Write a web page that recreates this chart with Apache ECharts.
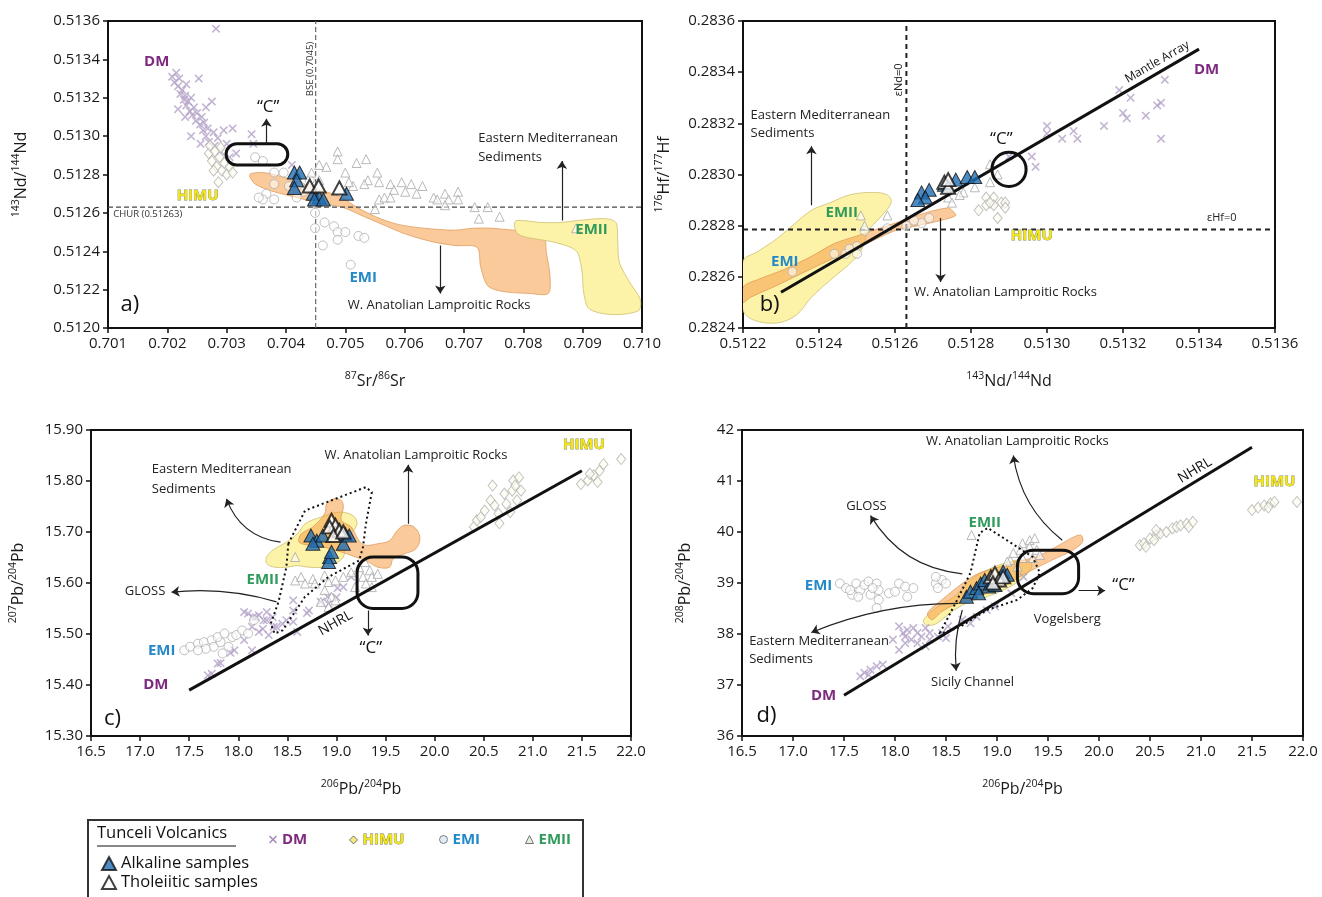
<!DOCTYPE html>
<html><head><meta charset="utf-8">
<script src="https://cdn.jsdelivr.net/npm/echarts@6/dist/echarts.min.js"></script>
<style>html,body{margin:0;padding:0;background:#fff}#c{width:1322px;height:897px}</style>
</head><body><div id="c"></div>
<script>
// ================= Panel a: 87Sr/86Sr (x) vs 143Nd/144Nd (y) =================
const aDM = [[0.70208,0.51331],[0.70212,0.51328],[0.70215,0.51333],[0.70218,0.51326],[0.70220,0.51330],[0.70222,0.51322],[0.70225,0.51324],[0.70228,0.51319],[0.70230,0.51321],[0.70232,0.51316],[0.70235,0.51318],[0.70238,0.51313],[0.70240,0.51320],[0.70242,0.51311],[0.70245,0.51315],[0.70248,0.51308],[0.70250,0.51312],[0.70253,0.51330],[0.70255,0.51306],[0.70258,0.51310],[0.70260,0.51303],[0.70262,0.51307],[0.70265,0.51300],[0.70268,0.51304],[0.70270,0.51297],[0.70275,0.51318],[0.70278,0.51302],[0.70280,0.51295],[0.70282,0.51356],[0.70285,0.51299],[0.70290,0.51292],[0.70295,0.51303],[0.70300,0.51296],[0.70305,0.51289],[0.70310,0.51304],[0.70316,0.51291],[0.70342,0.51301],[0.70345,0.51296],[0.70218,0.51314],[0.70230,0.51310],[0.70240,0.51300],[0.70256,0.51296],[0.70265,0.51315],[0.70232,0.51327],[0.70410,0.51285]];
const aHIMU = [[0.70270,0.51291],[0.70275,0.51287],[0.70280,0.51292],[0.70283,0.51284],[0.70288,0.51289],[0.70292,0.51282],[0.70296,0.51286],[0.70300,0.51280],[0.70305,0.51284],[0.70278,0.51282],[0.70286,0.51276],[0.70272,0.51295],[0.70290,0.51294],[0.70310,0.51281]];
const aEMI = [[0.70348,0.51289],[0.70361,0.51287],[0.70380,0.51281],[0.70396,0.51281],[0.70380,0.51275],[0.70367,0.51270],[0.70361,0.51267],[0.70424,0.51274],[0.70440,0.51277],[0.70430,0.51271],[0.70449,0.51265],[0.70449,0.51260],[0.70449,0.51252],[0.70465,0.51255],[0.70481,0.51253],[0.70487,0.51250],[0.70500,0.51250],[0.70522,0.51248],[0.70532,0.51247],[0.70462,0.51243],[0.70487,0.51246],[0.70509,0.51233],[0.70405,0.51274],[0.70418,0.51268],[0.70380,0.51267],[0.70354,0.51268]];
const aEMII = [[0.70487,0.51292],[0.70487,0.51288],[0.70535,0.51288],[0.70519,0.51286],[0.70468,0.51284],[0.70500,0.51281],[0.70554,0.51281],[0.70538,0.51277],[0.70557,0.51276],[0.70576,0.51275],[0.70595,0.51276],[0.70611,0.51275],[0.70630,0.51274],[0.70582,0.51272],[0.70601,0.51271],[0.70620,0.51270],[0.70649,0.51268],[0.70668,0.51270],[0.70690,0.51271],[0.70690,0.51267],[0.70674,0.51267],[0.70668,0.51264],[0.70655,0.51267],[0.70557,0.51267],[0.70550,0.51262],[0.70566,0.51268],[0.70718,0.51263],[0.70740,0.51263],[0.70725,0.51257],[0.70760,0.51258],[0.70889,0.51252],[0.70456,0.51285],[0.70443,0.51281],[0.70576,0.51268],[0.70532,0.51275],[0.70513,0.51274],[0.70506,0.51276],[0.70456,0.51277]];
const aAlk = [[0.70414,0.51281],[0.70423,0.51281],[0.70418,0.51277],[0.70414,0.51273],[0.70446,0.51270],[0.70456,0.51268],[0.70448,0.51267],[0.70463,0.51267],[0.70502,0.51270]];
const aThol = [[0.70440,0.51274],[0.70455,0.51274],[0.70490,0.51273]];
const aWAL = [[0.70339,0.51280],[0.70361,0.51281],[0.70392,0.51279],[0.70430,0.51275],[0.70468,0.51271],[0.70494,0.51268],[0.70519,0.51263],[0.70551,0.51258],[0.70589,0.51254],[0.70633,0.51252],[0.70684,0.51251],[0.70715,0.51252],[0.70747,0.51252],[0.70785,0.51251],[0.70832,0.51251],[0.70839,0.51239],[0.70845,0.51227],[0.70842,0.51218],[0.70810,0.51218],[0.70766,0.51219],[0.70740,0.51222],[0.70728,0.51232],[0.70722,0.51242],[0.70684,0.51243],[0.70646,0.51245],[0.70601,0.51249],[0.70570,0.51253],[0.70532,0.51258],[0.70494,0.51263],[0.70456,0.51265],[0.70418,0.51268],[0.70380,0.51271],[0.70348,0.51275]];
const aEMS = [[0.70788,0.51256],[0.70829,0.51255],[0.70861,0.51255],[0.70892,0.51256],[0.70937,0.51257],[0.70956,0.51255],[0.70959,0.51246],[0.70962,0.51234],[0.70981,0.51223],[0.70997,0.51215],[0.70994,0.51209],[0.70949,0.51207],[0.70911,0.51210],[0.70902,0.51218],[0.70899,0.51229],[0.70892,0.51239],[0.70880,0.51242],[0.70848,0.51245],[0.70810,0.51247],[0.70791,0.51249],[0.70785,0.51253]];
const aCHUR = [[0.701,0.51263],[0.710,0.51263]];
const aBSE = [[0.7045,0.5120],[0.7045,0.5136]];
const aC = [[0.70299,0.51296],[0.70403,0.51285]];
const aArrows = [[[0.70367,0.51296],[0.70367,0.51309],0],[[0.70865,0.51256],[0.70865,0.51287],0],[[0.70660,0.51243],[0.70660,0.51218],0]];
const aText = [[0.70182,0.51339,'DM','dm'],[0.70251,0.51269,'HIMU','himu'],[0.70530,0.51226,'EMI','emi'],[0.70915,0.51251,'EMII','emii'],[0.70137,0.51212,'a)','panel'],[0.70370,0.51315,'\u201cC\u201d','c'],[0.70724,0.51299,'Eastern Mediterranean','t','left'],[0.70724,0.51289,'Sediments','t','left'],[0.70658,0.51212,'W. Anatolian Lamproitic Rocks','t'],[0.70441,0.51335,'BSE (0.7045)','small','center',90],[0.70109,0.51259,'CHUR (0.51263)','small','left']];

// ================= Panel b: 143Nd/144Nd (x) vs 176Hf/177Hf (y) =================
const bDM = [[0.51319,0.28333],[0.51322,0.28330],[0.51320,0.28324],[0.51321,0.28322],[0.51326,0.28323],[0.51329,0.28327],[0.51330,0.28328],[0.51331,0.28337],[0.51330,0.28314],[0.51315,0.28319],[0.51307,0.28317],[0.51308,0.28314],[0.51304,0.28314],[0.51300,0.28319],[0.51300,0.28316],[0.51297,0.28303],[0.51296,0.28307],[0.51290,0.28307]];
const bHIMU = [[0.51284,0.28291],[0.51286,0.28291],[0.51288,0.28289],[0.51289,0.28289],[0.51284,0.28288],[0.51286,0.28288],[0.51289,0.28287],[0.51282,0.28286],[0.51287,0.28283],[0.51285,0.28289]];
const bEMI = [[0.51233,0.28262],[0.51244,0.28269],[0.51247,0.28269],[0.51250,0.28272],[0.51250,0.28269],[0.51252,0.28278],[0.51263,0.28280],[0.51267,0.28281],[0.51269,0.28283],[0.51265,0.28282],[0.51258,0.28279],[0.51248,0.28271]];
const bEMII = [[0.51251,0.28284],[0.51258,0.28284],[0.51252,0.28280],[0.51278,0.28293],[0.51281,0.28295],[0.51277,0.28292],[0.51274,0.28291],[0.51275,0.28289],[0.51285,0.28297],[0.51285,0.28304],[0.51287,0.28300]];
const bAlk = [[0.51267,0.28293],[0.51269,0.28294],[0.51268,0.28291],[0.51273,0.28296],[0.51276,0.28298],[0.51279,0.28299],[0.51281,0.28299],[0.51266,0.28290]];
const bThol = [[0.51273,0.28297],[0.51274,0.28295],[0.51274,0.28298]];
const bWAL = [[0.51220,0.28256],[0.51224,0.28259],[0.51231,0.28263],[0.51238,0.28268],[0.51244,0.28273],[0.51250,0.28276],[0.51256,0.28279],[0.51262,0.28282],[0.51268,0.28285],[0.51274,0.28287],[0.51275,0.28286],[0.51276,0.28284],[0.51272,0.28282],[0.51266,0.28280],[0.51260,0.28278],[0.51254,0.28274],[0.51248,0.28270],[0.51242,0.28266],[0.51235,0.28261],[0.51228,0.28256],[0.51222,0.28252],[0.51220,0.28250]];
const bEMS = [[0.51220,0.28266],[0.51224,0.28270],[0.51229,0.28275],[0.51233,0.28280],[0.51238,0.28286],[0.51243,0.28289],[0.51248,0.28292],[0.51254,0.28293],[0.51258,0.28292],[0.51259,0.28289],[0.51256,0.28283],[0.51253,0.28278],[0.51251,0.28270],[0.51248,0.28265],[0.51244,0.28260],[0.51238,0.28252],[0.51234,0.28245],[0.51229,0.28242],[0.51223,0.28243],[0.51220,0.28247]];
const bENd = [[0.51263,0.2824],[0.51263,0.2836]];
const bEHf = [[0.5122,0.282785],[0.5136,0.282785]];
const bMantle = [[0.5123,0.28254],[0.5134,0.28349]];
const bC = [0.51290,0.28302,0.000045];
const bArrows = [[[0.51238,0.28288],[0.51238,0.28311],0],[[0.51272,0.28283],[0.51272,0.28258],0]];
const bText = [[0.51342,0.28341,'DM','dm'],[0.51296,0.28276,'HIMU','himu'],[0.51231,0.28266,'EMI','emi'],[0.51246,0.28285,'EMII','emii'],[0.51227,0.28249,'b)','panel'],[0.51288,0.28314,'\u201cC\u201d','c'],[0.51222,0.28323,'Eastern Mediterranean','t','left'],[0.51222,0.28316,'Sediments','t','left'],[0.51265,0.28254,'W. Anatolian Lamproitic Rocks','t','left'],[0.51261,0.28337,'\u03b5Nd=0','small2','center',90],[0.51346,0.28283,'\u03b5Hf=0','small2'],[0.51329,0.28344,'Mantle Array','rot','center',30]];

// ================= Panel c: 206Pb/204Pb (x) vs 207Pb/204Pb (y) =================
const cDM = [[18.10,15.540],[18.18,15.533],[18.29,15.543],[18.35,15.533],[18.14,15.514],[18.21,15.504],[18.31,15.498],[18.39,15.514],[18.49,15.527],[18.56,15.546],[18.56,15.524],[18.60,15.504],[18.06,15.488],[18.14,15.468],[17.96,15.468],[17.79,15.442],[17.73,15.422],[17.69,15.419],[18.56,15.566],[18.72,15.546],[18.92,15.559],[19.00,15.572],[19.07,15.592],[19.15,15.612],[18.06,15.543],[18.21,15.537],[18.29,15.527],[18.15,15.533],[18.26,15.527],[18.36,15.514],[18.70,15.541],[18.84,15.563],[18.91,15.573],[19.01,15.590],[17.92,15.463],[17.82,15.443],[18.45,15.520],[18.25,15.510]];
const cHIMU = [[20.40,15.710],[20.43,15.723],[20.47,15.729],[20.57,15.762],[20.59,15.791],[20.61,15.752],[20.66,15.717],[20.71,15.775],[20.73,15.755],[20.79,15.781],[20.80,15.801],[20.82,15.791],[20.86,15.807],[20.88,15.781],[20.77,15.739],[20.84,15.762],[20.51,15.742],[20.65,15.736],[21.49,15.794],[21.56,15.801],[21.62,15.811],[21.68,15.820],[21.72,15.833],[21.66,15.798],[21.90,15.843],[21.58,15.814]];
const cEMI = [[17.45,15.468],[17.51,15.475],[17.59,15.481],[17.65,15.484],[17.73,15.488],[17.75,15.475],[17.82,15.484],[17.79,15.494],[17.86,15.501],[17.94,15.494],[17.98,15.498],[18.04,15.507],[18.10,15.501],[18.16,15.527],[17.90,15.475],[17.67,15.471],[17.84,15.462],[17.59,15.468]];
const cEMII = [[18.58,15.651],[18.58,15.605],[18.64,15.612],[18.68,15.599],[18.76,15.608],[18.78,15.599],[18.88,15.615],[18.92,15.602],[18.88,15.586],[18.95,15.573],[18.99,15.605],[19.07,15.612],[19.15,15.621],[19.23,15.631],[19.29,15.641],[19.34,15.625],[19.27,15.612],[19.30,15.599],[19.36,15.612],[19.42,15.618],[18.99,15.566],[18.84,15.563],[18.92,15.553],[19.19,15.592],[19.36,15.592]];
const cAlk = [[18.74,15.693],[18.80,15.683],[18.86,15.693],[18.76,15.677],[18.93,15.651],[18.92,15.641],[19.09,15.696],[19.07,15.677],[18.95,15.661],[19.13,15.693]];
const cThol = [[18.95,15.723],[18.99,15.713],[18.93,15.710],[19.03,15.703],[18.97,15.693],[19.07,15.700]];
const cWAL = [[18.64,15.696],[18.76,15.710],[18.88,15.736],[18.90,15.755],[18.97,15.765],[19.05,15.762],[19.07,15.749],[19.05,15.723],[19.15,15.710],[19.23,15.683],[19.29,15.674],[19.42,15.677],[19.54,15.683],[19.62,15.703],[19.69,15.713],[19.79,15.710],[19.85,15.690],[19.81,15.667],[19.69,15.657],[19.58,15.648],[19.54,15.631],[19.42,15.631],[19.30,15.644],[19.19,15.651],[19.11,15.657],[18.99,15.664],[18.88,15.670],[18.72,15.674],[18.62,15.680]];
const cEMS = [[18.29,15.651],[18.35,15.664],[18.49,15.680],[18.60,15.696],[18.68,15.716],[18.84,15.729],[19.03,15.739],[19.17,15.732],[19.21,15.716],[19.15,15.696],[19.09,15.670],[19.07,15.651],[18.99,15.638],[18.88,15.631],[18.72,15.631],[18.60,15.634],[18.49,15.631],[18.37,15.631],[18.29,15.638]];
const cGLOSS = [[18.51,15.677],[18.68,15.742],[18.99,15.765],[19.30,15.788],[19.36,15.778],[19.30,15.716],[19.27,15.670],[19.23,15.644],[18.92,15.612],[18.68,15.573],[18.45,15.507],[18.37,15.501],[18.33,15.520],[18.41,15.563],[18.49,15.631]];
const cNHRL = [[17.5,15.39],[21.5,15.82]];
const cC = [[19.21,15.651],[19.83,15.550]];
const cArrows = [[[19.32,15.546],[19.32,15.497],0],[[19.73,15.716],[19.73,15.832],0],[[18.43,15.680],[17.88,15.765],0.3],[[18.39,15.563],[17.32,15.582],-0.1]];
const cText = [[21.52,15.871,'HIMU','himu'],[18.25,15.606,'EMII','emii'],[17.22,15.467,'EMI','emi'],[17.16,15.400,'DM','dm'],[16.72,15.333,'c)','panel'],[19.35,15.472,'\u201cC\u201d','c'],[17.12,15.822,'Eastern Mediterranean','t','left'],[17.12,15.784,'Sediments','t','left'],[19.81,15.850,'W. Anatolian Lamproitic Rocks','t'],[17.05,15.584,'GLOSS','t'],[18.99,15.521,'NHRL','rot2','center',29.4]];

// ================= Panel d: 206Pb/204Pb (x) vs 208Pb/204Pb (y) =================
const dDM = [[17.66,37.17],[17.70,37.24],[17.76,37.30],[17.82,37.37],[17.88,37.40],[18.04,37.69],[18.08,38.02],[18.12,38.08],[18.18,38.12],[18.22,38.02],[18.26,37.95],[18.16,37.89],[18.10,37.82],[18.22,37.82],[18.34,37.89],[18.42,37.95],[18.46,38.02],[18.50,37.92],[18.10,37.95],[18.04,38.15],[18.30,38.12],[18.52,38.15],[18.66,38.28],[18.74,38.21],[18.80,38.34],[18.90,38.47],[18.98,38.54],[19.14,38.80],[19.26,39.12],[18.30,37.76],[17.98,37.89],[18.34,38.02],[17.74,37.20]];
const dHIMU = [[20.40,39.74],[20.44,39.775],[20.50,39.87],[20.56,39.94],[20.54,39.84],[20.46,39.71],[20.60,39.97],[20.66,40.00],[20.72,40.07],[20.76,40.10],[20.80,40.13],[20.86,40.16],[20.88,40.10],[20.92,40.20],[21.50,40.43],[21.56,40.48],[21.62,40.52],[21.68,40.56],[21.72,40.59],[21.66,40.48],[21.94,40.59],[20.56,40.04]];
const dEMI = [[17.46,38.99],[17.52,38.90],[17.58,38.77],[17.62,38.99],[17.66,38.86],[17.70,38.96],[17.74,39.03],[17.76,38.77],[17.82,38.99],[17.84,38.86],[17.84,38.67],[17.82,38.51],[17.94,38.80],[18.00,38.83],[18.04,38.99],[18.10,38.93],[18.12,38.73],[18.18,38.90],[18.40,38.99],[18.42,38.90],[18.46,39.06],[18.50,38.99],[18.40,39.12],[17.56,38.86],[17.64,38.73],[17.78,38.90]];
const dEMII = [[18.75,39.94],[19.25,39.78],[19.32,39.84],[19.37,39.88],[19.32,39.71],[19.39,39.65],[19.23,39.65],[19.13,39.45],[19.25,39.49],[19.16,39.59],[19.35,39.49],[19.42,39.55],[19.10,39.42],[19.20,39.32]];
const dAlk = [[18.70,38.73],[18.74,38.83],[18.80,38.90],[18.84,38.99],[18.88,39.06],[18.82,38.80],[18.92,38.93],[18.98,38.96],[19.04,39.12],[19.06,39.22],[19.10,39.16]];
const dThol = [[18.94,39.12],[18.98,39.19],[19.02,39.06],[18.96,39.00],[19.06,39.12]];
const dWAL = [[18.32,38.41],[18.46,38.67],[18.66,38.99],[18.82,39.19],[18.98,39.29],[19.18,39.42],[19.38,39.51],[19.58,39.71],[19.72,39.87],[19.82,39.94],[19.84,39.81],[19.74,39.64],[19.54,39.45],[19.38,39.29],[19.22,39.12],[19.06,38.93],[18.90,38.80],[18.74,38.67],[18.58,38.57],[18.46,38.44],[18.36,38.28]];
const dEMS = [[18.28,38.28],[18.42,38.54],[18.58,38.73],[18.74,39.06],[18.90,39.25],[19.06,39.38],[19.22,39.45],[19.34,39.38],[19.30,39.19],[19.18,38.99],[19.06,38.86],[18.90,38.73],[18.74,38.64],[18.58,38.47],[18.46,38.28],[18.38,38.18],[18.30,38.18]];
const dGLOSS = [[18.44,38.02],[18.61,38.67],[18.74,39.20],[18.83,39.98],[18.91,40.08],[19.35,39.51],[19.42,39.20],[19.35,38.90],[19.20,38.67],[18.90,38.47],[18.64,38.14],[18.47,38.02]];
const dNHRL = [[17.5,36.80],[21.5,41.66]];
const dC = [[19.20,39.64],[19.80,38.79]];
const dArrows = [[[19.80,38.85],[20.06,38.85],0],[[19.64,39.84],[19.16,41.50],0.2],[[18.66,39.18],[17.76,40.32],0.25],[[18.62,38.60],[17.18,38.03],-0.1],[[18.66,38.47],[18.60,37.28],-0.1]];
const dText = [[21.72,40.98,'HIMU','himu'],[18.88,40.19,'EMII','emii'],[17.25,38.94,'EMI','emi'],[17.30,36.78,'DM','dm'],[16.74,36.40,'d)','panel'],[20.24,38.95,'\u201cC\u201d','c'],[19.20,41.78,'W. Anatolian Lamproitic Rocks','t'],[17.72,40.50,'GLOSS','t'],[16.57,37.86,'Eastern Mediterranean','t','left'],[16.57,37.50,'Sediments','t','left'],[18.76,37.06,'Sicily Channel','t'],[19.69,38.29,'Vogelsberg','t'],[20.94,41.21,'NHRL','rot2','center',31.2]];

// ================= Axes =================
const xTicksDec = [3,4,1,1];
const yTicksDec = [4,4,2,0];
const xRange = [[0.701,0.710,0.001],[0.5122,0.5136,0.0002],[16.5,22.0,0.5],[16.5,22.0,0.5]];
const yRange = [[0.5120,0.5136,0.0002],[0.2824,0.2836,0.0002],[15.30,15.90,0.1],[36,42,1]];
const xNames = [['87','Sr/','86','Sr'],['143','Nd/','144','Nd'],['206','Pb/','204','Pb'],['206','Pb/','204','Pb']];
const yNames = [['143','Nd/','144','Nd'],['176','Hf/','177','Hf'],['207','Pb/','204','Pb'],['208','Pb/','204','Pb']];

const F = "'Open Sans', 'Noto Sans', sans-serif";
const grids = [
  {left:108, top:21, width:534, height:307},
  {left:743, top:21, width:532, height:307},
  {left:91, top:430, width:540, height:306},
  {left:742, top:430, width:561, height:306}
];
const yGap = [76, 68, 62, 46];
const nameRich = {
  n:{fontSize:16, fontFamily:F, color:'#1a1a1a', lineHeight:21},
  s:{fontSize:10.5, fontFamily:F, color:'#1a1a1a', lineHeight:11, verticalAlign:'top'}
};
function nm(a){ return '{s|'+a[0]+'}{n|'+a[1]+'}{s|'+a[2]+'}{n|'+a[3]+'}'; }
function axisCommon(dec){
  return {
    type:'value', splitLine:{show:false},
    axisLine:{show:true, onZero:false, lineStyle:{color:'#111', width:2}},
    axisTick:{show:true, length:5, lineStyle:{color:'#111', width:1.5}},
    axisLabel:{formatter:v=>Number(v).toFixed(dec), color:'#1a1a1a', fontSize:15, fontFamily:F, margin:8, showMinLabel:true, showMaxLabel:true},
    nameLocation:'middle', nameTextStyle:{rich:nameRich}
  };
}
const xAxes = [], yAxes = [];
for (let i=0;i<4;i++){
  xAxes.push(Object.assign(axisCommon(xTicksDec[i]), {gridIndex:i, min:xRange[i][0], max:xRange[i][1], interval:xRange[i][2], name:nm(xNames[i]), nameGap:43}));
  yAxes.push(Object.assign(axisCommon(yTicksDec[i]), {gridIndex:i, min:yRange[i][0], max:yRange[i][1], interval:yRange[i][2], name:nm(yNames[i]), nameGap:yGap[i], nameRotate:90}));
}

// ================= Styles =================
const XPATH = 'path://M0,1.3L1.3,0L5,3.7L8.7,0L10,1.3L6.3,5L10,8.7L8.7,10L5,6.3L1.3,10L0,8.7L3.7,5Z';
const SYM = {
  'DM': {symbol:XPATH, size:8.5, style:{color:'#b3a1c7'}},
  'HIMU': {symbol:'diamond', size:[9,11], style:{color:'rgba(255,253,240,0.8)', borderColor:'#b3b3b3', borderWidth:1}},
  'EMI': {symbol:'circle', size:9, style:{color:'rgba(255,255,255,0.7)', borderColor:'#b0b0b0', borderWidth:1}},
  'EMII': {symbol:'triangle', size:[9,9], style:{color:'rgba(255,255,255,0.7)', borderColor:'#a8a8a8', borderWidth:1}},
  'Alkaline samples': {symbol:'triangle', size:[14,13], style:{color:'#1f6db3', borderColor:'#111', borderWidth:1}},
  'Tholeiitic samples': {symbol:'triangle', size:[14,13], style:{color:'#ffffff', borderColor:'#111', borderWidth:2}}
};
const ORANGE = {fill:'rgba(245,158,72,0.55)', stroke:'rgba(215,140,70,0.8)', lineWidth:0.8};
const YELLOW = {fill:'#fcf3a8', stroke:'#cdbf70', lineWidth:0.8};
const GLOSSST = {fill:'none', stroke:'#111', lineWidth:2, lineDash:[2,3]};
const CST = {fill:'none', stroke:'#111', lineWidth:3};
const STY = {
  t:{font:'13px '+F, fill:'#222'},
  small:{font:'9.5px '+F, fill:'#333'},
  small2:{font:'11px '+F, fill:'#222'},
  dm:{font:'bold 15px '+F, fill:'#7d2a7e'},
  himu:{font:'bold 15px '+F, fill:'#f2e51a', stroke:'#8a8a5a', lineWidth:0.8},
  emi:{font:'bold 15px '+F, fill:'#2489c9'},
  emii:{font:'bold 15px '+F, fill:'#2f9a5b'},
  panel:{font:'22px '+F, fill:'#111'},
  c:{font:'17px '+F, fill:'#111'},
  rot:{font:'12px '+F, fill:'#111'},
  rot2:{font:'14px '+F, fill:'#111'}
};

// ================= Series builders =================
const series = [];
function scat(name, gi, data, z){
  const s = SYM[name];
  series.push({type:'scatter', name, xAxisIndex:gi, yAxisIndex:gi, data, symbol:s.symbol, symbolSize:s.size, itemStyle:s.style, z, silent:true});
}
function poly(gi, pts, style, smooth, z){
  series.push({type:'custom', xAxisIndex:gi, yAxisIndex:gi, data:pts, z, silent:true, clip:true,
    renderItem:(p, api)=>{ if (p.dataIndex!==0) return; return {type:'polygon', shape:{points:pts.map(d=>api.coord(d)), smooth}, style}; }});
}
function refLine(gi, pts, ls, z){
  series.push({type:'line', xAxisIndex:gi, yAxisIndex:gi, data:pts, symbol:'none', lineStyle:ls, z, silent:true});
}
function cbox(gi, c, rad, z){
  series.push({type:'custom', xAxisIndex:gi, yAxisIndex:gi, data:c, z, silent:true,
    renderItem:(p, api)=>{ if (p.dataIndex!==0) return; const a=api.coord(c[0]), b=api.coord(c[1]);
      const x=Math.min(a[0],b[0]), y=Math.min(a[1],b[1]), w=Math.abs(b[0]-a[0]), h=Math.abs(b[1]-a[1]);
      return {type:'rect', shape:{x, y, width:w, height:h, r: rad===null ? h/2 : rad}, style:CST}; }});
}
function ccircle(gi, c, z){
  series.push({type:'custom', xAxisIndex:gi, yAxisIndex:gi, data:[[c[0],c[1]]], z, silent:true,
    renderItem:(p, api)=>{ const a=api.coord([c[0],c[1]]), b=api.coord([c[0]+c[2],c[1]]);
      return {type:'circle', shape:{cx:a[0], cy:a[1], r:Math.abs(b[0]-a[0])}, style:CST}; }});
}
function arrows(gi, list, z){
  series.push({type:'lines', coordinateSystem:'cartesian2d', xAxisIndex:gi, yAxisIndex:gi, z, silent:true,
    symbol:['none','arrow'], symbolSize:8, lineStyle:{color:'#222', width:1.2, opacity:1},
    data:list.map(a=>({coords:[a[0],a[1]], lineStyle:{curveness:a[2]}}))});
}
function texts(gi, list, z){
  series.push({type:'custom', xAxisIndex:gi, yAxisIndex:gi, data:list.map(a=>[a[0],a[1]]), z, silent:true,
    renderItem:(p, api)=>{ const a=list[p.dataIndex]; const pt=api.coord([a[0],a[1]]);
      return {type:'text', x:pt[0], y:pt[1], rotation:(a[5]||0)*Math.PI/180,
        style:Object.assign({text:a[2], align:a[4]||'center', verticalAlign:'middle'}, STY[a[3]])}; }});
}
function samples(gi, dm, himu, emi, emii, alk, thol){
  scat('DM', gi, dm, 3); scat('HIMU', gi, himu, 3); scat('EMI', gi, emi, 3); scat('EMII', gi, emii, 3);
  scat('Alkaline samples', gi, alk, 8); scat('Tholeiitic samples', gi, thol, 8);
}

// Panel a
poly(0, aWAL, ORANGE, 0.3, 1); poly(0, aEMS, YELLOW, 0.3, 1);
refLine(0, aCHUR, {color:'#444', width:1.2, type:[5,3]}, 2);
refLine(0, aBSE, {color:'#666', width:1.2, type:[5,3]}, 2);
samples(0, aDM, aHIMU, aEMI, aEMII, aAlk, aThol);
cbox(0, aC, null, 6); arrows(0, aArrows, 7); texts(0, aText, 9);
// Panel b
poly(1, bEMS, YELLOW, 0.35, 1); poly(1, bWAL, ORANGE, 0.3, 1);
refLine(1, bENd, {color:'#222', width:2, type:[5,4]}, 2);
refLine(1, bEHf, {color:'#222', width:2, type:[5,4]}, 2);
refLine(1, bMantle, {color:'#111', width:3}, 5);
samples(1, bDM, bHIMU, bEMI, bEMII, bAlk, bThol);
ccircle(1, bC, 6); arrows(1, bArrows, 7); texts(1, bText, 9);
// Panel c
poly(2, cEMS, YELLOW, 0.35, 1); poly(2, cWAL, ORANGE, 0.35, 1);
refLine(2, cNHRL, {color:'#111', width:3}, 5);
samples(2, cDM, cHIMU, cEMI, cEMII, cAlk, cThol);
poly(2, cGLOSS, GLOSSST, 0, 4);
cbox(2, cC, 16, 6); arrows(2, cArrows, 7); texts(2, cText, 9);
// Panel d
poly(3, dEMS, YELLOW, 0.35, 1); poly(3, dWAL, ORANGE, 0.35, 1);
refLine(3, dNHRL, {color:'#111', width:3}, 5);
samples(3, dDM, dHIMU, dEMI, dEMII, dAlk, dThol);
poly(3, dGLOSS, GLOSSST, 0, 4);
cbox(3, dC, 16, 6); arrows(3, dArrows, 7); texts(3, dText, 9);

// ================= Legend =================
const legRich = {
  dm:{fontSize:15, fontWeight:'bold', color:'#7d2a7e', fontFamily:F},
  himu:{fontSize:15, fontWeight:'bold', color:'#f2e51a', textBorderColor:'#7a7a50', textBorderWidth:0.8, fontFamily:F},
  emi:{fontSize:15, fontWeight:'bold', color:'#2489c9', fontFamily:F},
  emii:{fontSize:15, fontWeight:'bold', color:'#2f9a5b', fontFamily:F}
};
const legKey = {'DM':'dm','HIMU':'himu','EMI':'emi','EMII':'emii'};
function smallLeg(left, item){
  return {left, top:827, itemWidth:8, itemHeight:8, selectedMode:false, data:[item],
    formatter:n=>'{'+legKey[n]+'|'+n+'}', textStyle:{rich:legRich, fontFamily:F}};
}
const legends = [
  smallLeg(264, {name:'DM', itemStyle:{color:'#8e6aa3'}}),
  smallLeg(344, {name:'HIMU', itemStyle:{color:'#f2e463', borderColor:'#555', borderWidth:1}}),
  smallLeg(434, {name:'EMI', itemStyle:{color:'#d8e6f0', borderColor:'#666', borderWidth:1}}),
  smallLeg(520, {name:'EMII', itemStyle:{color:'#dfe9d6', borderColor:'#555', borderWidth:1}}),
  {left:96, top:850, orient:'vertical', itemGap:2, itemWidth:14, itemHeight:13, selectedMode:false,
   data:['Alkaline samples','Tholeiitic samples'], textStyle:{fontSize:16.5, color:'#111', fontFamily:F}}
];

const chart = echarts.init(document.getElementById('c'), null, {renderer:'canvas'});
chart.setOption({
  backgroundColor:'#fff', animation:false,
  grid: grids.map(g=>Object.assign({show:true, borderColor:'#111', borderWidth:2, containLabel:false}, g)),
  xAxis:xAxes, yAxis:yAxes, legend:legends, series,
  graphic:[
    {type:'rect', shape:{x:88, y:820, width:495, height:90}, style:{fill:'none', stroke:'#333', lineWidth:2}, z:0},
    {type:'text', x:97, y:825, style:{text:'Tunceli Volcanics', font:'16.5px '+F, fill:'#111'}},
    {type:'line', shape:{x1:97, y1:846, x2:236, y2:846}, style:{stroke:'#111', lineWidth:1}}
  ]
});
</script></body></html>
